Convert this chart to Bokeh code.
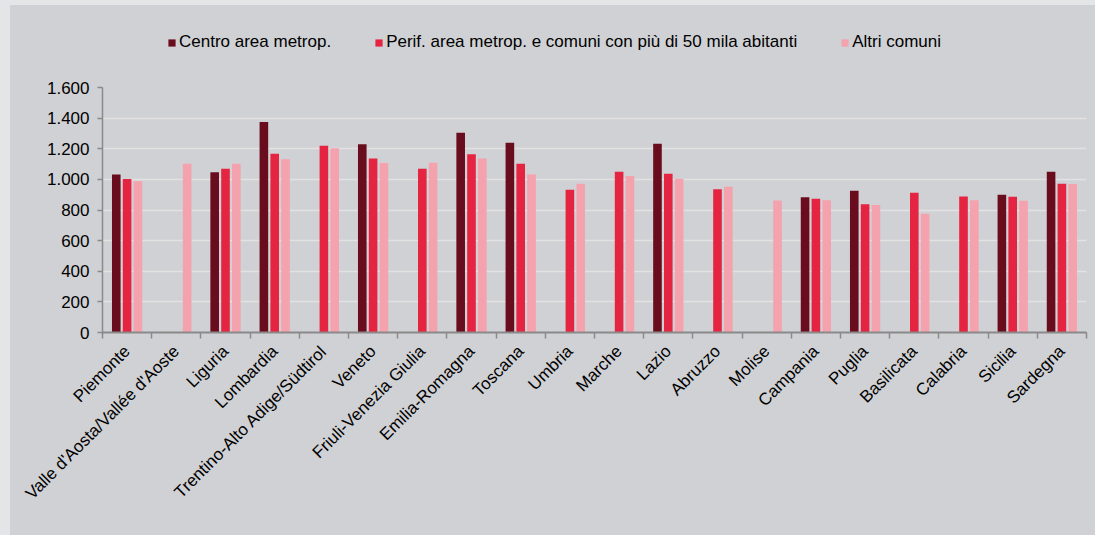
import math
from bokeh.plotting import figure
from bokeh.layouts import column
from bokeh.models import (ColumnDataSource, Range1d, FixedTicker, Legend, LegendItem,
                          CustomJSTickFormatter)
from bokeh.transform import dodge
from bokeh.embed import file_html
from bokeh.resources import INLINE

nan = float("nan")

regions = ["Piemonte", "Valle d'Aosta/Vallée d'Aoste", "Liguria", "Lombardia",
           "Trentino-Alto Adige/Südtirol", "Veneto", "Friuli-Venezia Giulia",
           "Emilia-Romagna", "Toscana", "Umbria", "Marche", "Lazio", "Abruzzo",
           "Molise", "Campania", "Puglia", "Basilicata", "Calabria", "Sicilia", "Sardegna"]

centro = [1032, nan, 1046, 1375, nan, 1229, nan, 1305, 1240, nan,
          nan, 1233, nan, nan, 884, 926, nan, nan, 899, 1050]
perif = [1002, nan, 1070, 1168, 1220, 1137, 1070, 1164, 1102, 932,
         1050, 1037, 936, nan, 873, 838, 912, 888, 886, 971]
altri = [987, 1102, 1102, 1131, 1203, 1107, 1109, 1137, 1032, 971,
         1022, 1004, 952, 862, 864, 832, 775, 864, 860, 969]

series_names = ["Centro area metrop.",
                "Perif. area metrop. e comuni con più di 50 mila abitanti",
                "Altri comuni"]
y_ticks = [0, 200, 400, 600, 800, 1000, 1200, 1400, 1600]

colors = ["#690d1e", "#e42441", "#f4a2ad"]
BG = "#d0d1d4"
OUTER = "#e4e5e7"
FONT = "Liberation Sans"

n = len(regions)
src = ColumnDataSource(dict(x=[i + 0.5 for i in range(n)], centro=centro, perif=perif, altri=altri))

# ---- legend strip (its own figure, so the legend is never clipped) ----
lf = figure(width=1085, height=72, output_backend="svg", toolbar_location=None,
            x_axis_type=None, y_axis_type=None,
            x_range=Range1d(-500, -499), y_range=Range1d(50000, 50001),
            min_border=0)
lf.background_fill_color = None
lf.border_fill_color = None
lf.outline_line_color = None
lf.xgrid.grid_line_color = None
lf.ygrid.grid_line_color = None
# same series, far outside this strip's view: only their legend swatches show
lrs = [lf.vbar(x="x", top=col, width=0.175, source=src, fill_color=c, line_color=None)
       for col, c in zip(["centro", "perif", "altri"], colors)]
legend = Legend(items=[LegendItem(label=s, renderers=[r]) for s, r in zip(series_names, lrs)],
                orientation="horizontal", location=(65, 25))
legend.background_fill_alpha = 0
legend.border_line_color = None
legend.label_text_font = FONT
legend.label_text_font_size = "17px"
legend.label_text_color = "#000000"
legend.glyph_width = 9
legend.glyph_height = 9
legend.label_standoff = 3
legend.spacing = 43
legend.padding = 0
legend.margin = 0
lf.add_layout(legend)

# ---- main chart ----
p = figure(width=1085, height=458, output_backend="svg", toolbar_location=None,
           x_range=Range1d(0, n), y_range=Range1d(0, 1600),
           min_border_left=92, min_border_right=9, min_border_top=10, min_border_bottom=203)
p.background_fill_color = BG
p.border_fill_color = BG
p.outline_line_color = None

for col, off, c in zip(["centro", "perif", "altri"], [-0.22, 0.0, 0.22], colors):
    p.vbar(x=dodge("x", off, range=p.x_range), top=col, width=0.175, source=src,
           fill_color=c, line_color=None)

# grid
p.xgrid.grid_line_color = None
p.ygrid.grid_line_color = "#e2e2e2"
p.ygrid.grid_line_width = 1.5
p.ygrid.ticker = FixedTicker(ticks=y_ticks)

# y axis
p.yaxis.ticker = FixedTicker(ticks=y_ticks)
p.yaxis.formatter = CustomJSTickFormatter(code="return tick.toString().replace(/\\B(?=(\\d{3})+(?!\\d))/g, '.');")
p.yaxis.axis_line_color = "#8a8a8a"
p.yaxis.axis_line_width = 1.5
p.yaxis.major_tick_line_color = "#8a8a8a"
p.yaxis.major_tick_line_width = 1.5
p.yaxis.major_tick_out = 5
p.yaxis.major_tick_in = 0
p.yaxis.minor_tick_line_color = None
p.yaxis.major_label_text_font = FONT
p.yaxis.major_label_text_font_size = "17px"
p.yaxis.major_label_text_color = "#000000"
p.yaxis.major_label_standoff = 8

# x axis
p.xaxis.ticker = FixedTicker(ticks=[i + 0.5 for i in range(n)], minor_ticks=list(range(n + 1)))
p.xaxis.formatter = CustomJSTickFormatter(args=dict(names=regions),
                                          code="return names[Math.floor(tick)];")
p.xaxis.axis_line_color = "#8a8a8a"
p.xaxis.axis_line_width = 2
p.xaxis.major_tick_line_color = None
p.xaxis.major_tick_out = 0
p.xaxis.major_tick_in = 0
p.xaxis.minor_tick_line_color = "#8a8a8a"
p.xaxis.minor_tick_line_width = 1.5
p.xaxis.minor_tick_out = 6
p.xaxis.minor_tick_in = 0
p.xaxis.major_label_orientation = math.pi / 4
p.xaxis.major_label_text_font = FONT
p.xaxis.major_label_text_font_size = "17px"
p.xaxis.major_label_text_color = "#000000"
p.xaxis.major_label_standoff = 10

inner = column(lf, p, spacing=0, styles={"background-color": BG})
page = column(inner, styles={"background-color": OUTER, "padding-left": "10px", "padding-top": "5px"})

open("out.html", "w").write(file_html(page, INLINE))
